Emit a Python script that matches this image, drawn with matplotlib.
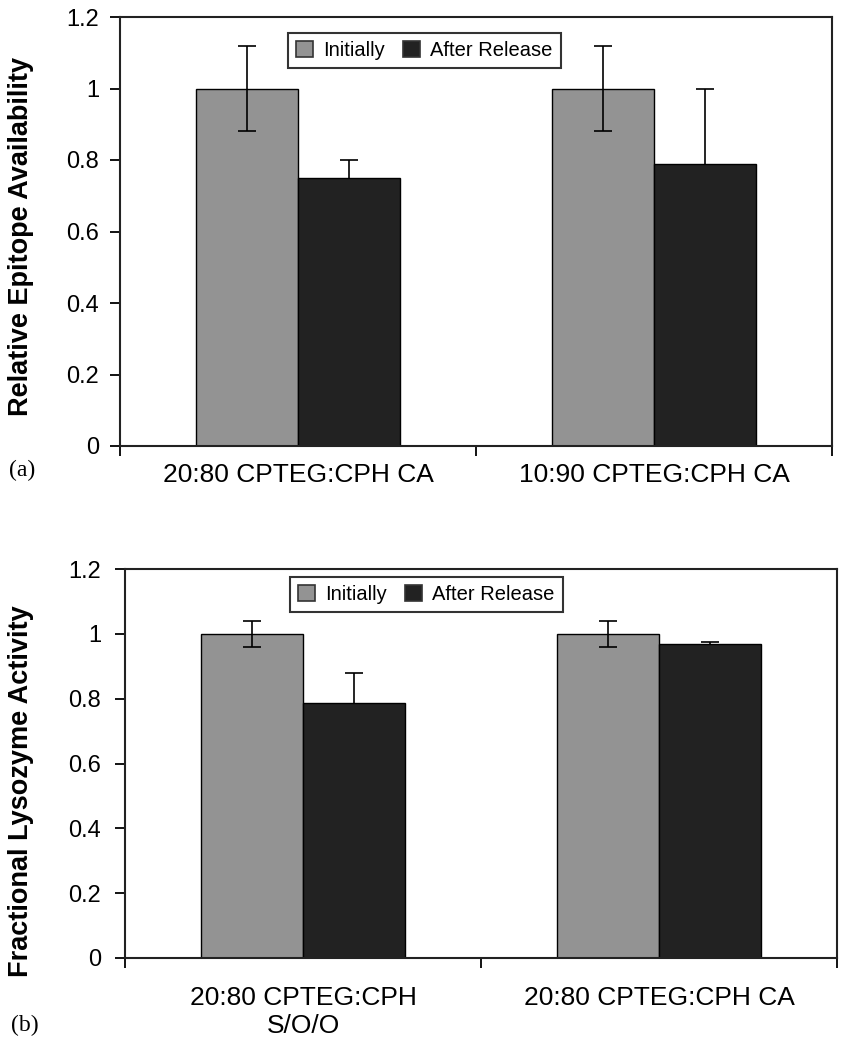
import matplotlib
matplotlib.use("Agg")
import matplotlib.pyplot as plt
import numpy as np

# ---- data ----
series_names = ["Initially", "After Release"]

cats_a = ["20:80 CPTEG:CPH CA", "10:90 CPTEG:CPH CA"]
init_a = [1.0, 1.0]
init_err_a = [0.12, 0.12]
after_a = [0.75, 0.79]
after_err_a = [0.05, 0.21]

cats_b = ["20:80 CPTEG:CPH\nS/O/O", "20:80 CPTEG:CPH CA"]
init_b = [1.0, 1.0]
init_err_b = [0.04, 0.04]
after_b = [0.787, 0.97]
after_err_b = [0.093, 0.005]

yticks = [0, 0.2, 0.4, 0.6, 0.8, 1.0, 1.2]
ytick_labels = ["0", "0.2", "0.4", "0.6", "0.8", "1", "1.2"]

ylabel_a = "Relative Epitope Availability"
ylabel_b = "Fractional Lysozyme Activity"

# ---- style ----
plt.rcParams["font.family"] = ["Liberation Sans", "DejaVu Sans"]
GRAY = "#939393"
DARK = "#222222"

fig = plt.figure(figsize=(8.45, 10.5), dpi=100)
W, H = 845, 1050


def ax_rect(l, t, r, b):
    return [l / W, 1 - b / H, (r - l) / W, (b - t) / H]


def draw(ax, cats, init, init_err, after, after_err, xpad, ypad, leg_anchor):
    x = np.arange(len(cats)) + 0.5
    w = 1 / 3.5
    ax.bar(x - w / 2, init, w, color=GRAY, edgecolor="black", linewidth=1.0,
           label=series_names[0], zorder=2)
    ax.bar(x + w / 2, after, w, color=DARK, edgecolor="black", linewidth=1.0,
           label=series_names[1], zorder=2)
    ax.errorbar(x - w / 2, init, yerr=init_err, fmt="none", ecolor="black",
                elinewidth=1.2, capsize=6.5, capthick=1.2, zorder=3)
    ax.errorbar(x + w / 2, after, yerr=after_err, fmt="none", ecolor="black",
                elinewidth=1.2, capsize=6.5, capthick=1.2, zorder=1.5)
    ax.set_xlim(0, len(cats))
    ax.set_ylim(0, 1.2)
    ax.set_yticks(yticks)
    ax.set_yticklabels(ytick_labels)
    ax.set_xticks([0, 1, 2])
    ax.set_xticklabels([])
    ax.set_xticks(x, minor=True)
    ax.set_xticklabels(cats, minor=True, fontsize=19, linespacing=1.2)
    ax.tick_params(axis="x", which="major", direction="out", length=7,
                   width=1.3, color="black")
    ax.tick_params(axis="x", which="minor", length=0, pad=xpad)
    ax.tick_params(axis="y", direction="out", length=7.2, width=1.3,
                   labelsize=17, pad=ypad)
    for s in ax.spines.values():
        s.set_linewidth(1.5)
        s.set_color("#222222")
    leg = ax.legend(loc="upper left", bbox_to_anchor=leg_anchor, ncol=2,
                    fontsize=14.5, frameon=True, fancybox=False,
                    edgecolor="black", borderaxespad=0, handlelength=0.85,
                    handleheight=0.85, handletextpad=0.5, columnspacing=0.9,
                    borderpad=0.4)
    leg.get_frame().set_linewidth(1.5)
    for p in leg.get_patches():
        p.set_linewidth(1.2)
        p.set_edgecolor("#333333")


ax1 = fig.add_axes(ax_rect(120, 17, 832, 446))
draw(ax1, cats_a, init_a, init_err_a, after_a, after_err_a, 12, 8,
     (0.236, 0.962))
ax2 = fig.add_axes(ax_rect(125, 569, 837, 958))
draw(ax2, cats_b, init_b, init_err_b, after_b, after_err_b, 20, 10,
     (0.232, 0.979))

fig.text(21 / W, 1 - 236 / H, ylabel_a, rotation=90, ha="center",
         va="center", fontsize=19.5, fontweight="bold")
fig.text(21 / W, 1 - 791 / H, ylabel_b, rotation=90, ha="center",
         va="center", fontsize=19.5, fontweight="bold")

fig.text(9 / W, 1 - 470 / H, "(a)", ha="left", va="center", fontsize=17,
         family=["Liberation Serif", "DejaVu Serif"])
fig.text(11 / W, 1 - 1025 / H, "(b)", ha="left", va="center", fontsize=17,
         family=["Liberation Serif", "DejaVu Serif"])

fig.savefig("out.png", dpi=100)
